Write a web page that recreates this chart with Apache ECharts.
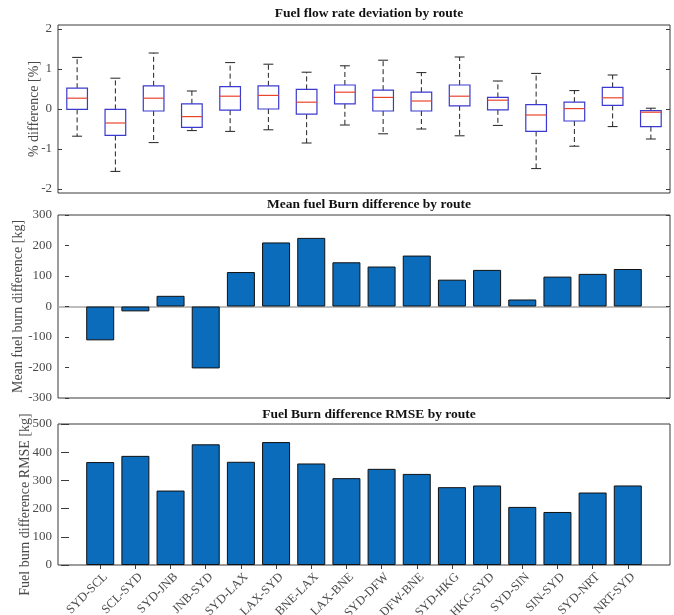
<!DOCTYPE html>
<html>
<head>
<meta charset="utf-8">
<script src="https://cdn.jsdelivr.net/npm/echarts@6/dist/echarts.min.js"></script>
<style>
html,body{margin:0;padding:0;background:#fff;}
#chart{width:674px;height:615px;}
</style>
</head>
<body>
<div id="chart"></div>
<script>
// ---- data ----
const routes = ['SYD-SCL','SCL-SYD','SYD-JNB','JNB-SYD','SYD-LAX','LAX-SYD','BNE-LAX','LAX-BNE','SYD-DFW','DFW-BNE','SYD-HKG','HKG-SYD','SYD-SIN','SIN-SYD','SYD-NRT','NRT-SYD'];
const flowMin    = [-0.68,-1.56,-0.84,-0.54,-0.56,-0.52,-0.85,-0.40,-0.62,-0.50,-0.67,-0.41,-1.49,-0.93,-0.44,-0.75];
const flowQ1     = [-0.01,-0.66,-0.05,-0.46,-0.03, 0.00,-0.13, 0.13,-0.05,-0.05, 0.08,-0.02,-0.56,-0.30, 0.09,-0.44];
const flowMedian = [ 0.27,-0.35, 0.27,-0.19, 0.32, 0.34, 0.17, 0.42, 0.29, 0.20, 0.32, 0.22,-0.15, 0.01, 0.28,-0.08];
const flowQ3     = [ 0.52,-0.01, 0.58, 0.13, 0.56, 0.58, 0.49, 0.60, 0.47, 0.42, 0.60, 0.29, 0.11, 0.17, 0.54,-0.04];
const flowMax    = [ 1.29, 0.77, 1.40, 0.45, 1.16, 1.12, 0.92, 1.08, 1.22, 0.91, 1.30, 0.70, 0.89, 0.46, 0.85, 0.02];
const meanDiff   = [-111,-16,35,-203,113,210,225,145,131,167,88,120,23,98,107,123];
const rmse       = [365,387,264,428,366,436,360,308,341,323,276,282,206,188,257,282];
const flowTicks  = [-2,-1,0,1,2];
const titles = ['Fuel flow rate deviation by route','Mean fuel Burn difference by route','Fuel Burn difference RMSE by route'];
const yNames = ['% difference [%]','Mean fuel burn difference [kg]','Fuel burn difference RMSE [kg]'];

// ---- styling ----
const SERIF = '"Liberation Serif","DejaVu Serif",serif';
const LABEL_COLOR = '#4a4a4a';
const FRAME = '#3a3a3a';
const positions = routes.map((_, i) => i + 1);
const LABEL_SHIFT = 0.15; // rotated label anchor sits slightly right of its tick
const labelPositions = positions.map(p => p + LABEL_SHIFT);

const chart = echarts.init(document.getElementById('chart'), null, {renderer:'canvas'});

const labelStyle = {color: LABEL_COLOR, fontFamily: SERIF, fontSize: 13};
const nameStyle = {color: LABEL_COLOR, fontFamily: SERIF, fontSize: 14};

function rightAxis(grid, min, max, interval, custom) {
  const ax = {type:'value', gridIndex:grid, position:'right', min, max,
    axisLine:{show:false}, axisLabel:{show:false}, splitLine:{show:false},
    axisTick:{show:true, inside:true, length:4, lineStyle:{color:FRAME}}};
  if (custom) ax.axisTick.customValues = custom; else ax.interval = interval;
  return ax;
}

function renderBox(params, api) {
  const idx = api.value(0);
  const pMin = api.coord([idx, api.value(1)]);
  const pQ1 = api.coord([idx, api.value(2)]);
  const pMed = api.coord([idx, api.value(3)]);
  const pQ3 = api.coord([idx, api.value(4)]);
  const pMax = api.coord([idx, api.value(5)]);
  const band = api.size([1, 0])[0];
  const hw = band * 0.27;
  const cw = band * 0.13;
  const x = pMed[0];
  const dash = {stroke:'#222', lineWidth:1, lineDash:[5,3]};
  const solid = {stroke:'#222', lineWidth:1};
  return {type:'group', children:[
    {type:'line', shape:{x1:x,y1:pQ3[1],x2:x,y2:pMax[1]}, style:dash},
    {type:'line', shape:{x1:x,y1:pQ1[1],x2:x,y2:pMin[1]}, style:dash},
    {type:'line', shape:{x1:x-cw,y1:pMax[1],x2:x+cw,y2:pMax[1]}, style:solid},
    {type:'line', shape:{x1:x-cw,y1:pMin[1],x2:x+cw,y2:pMin[1]}, style:solid},
    {type:'rect', shape:{x:x-hw,y:pQ3[1],width:2*hw,height:pQ1[1]-pQ3[1]}, style:{fill:'none',stroke:'#3a3ad0',lineWidth:1.2}},
    {type:'line', shape:{x1:x-hw,y1:pMed[1],x2:x+hw,y2:pMed[1]}, style:{stroke:'#e8452c',lineWidth:1.2}}
  ]};
}

const gridBase = {left:58, right:4, show:true, borderColor:FRAME, borderWidth:1,
  backgroundColor:'transparent', containLabel:false, outerBoundsMode:'none'};

const option = {
  backgroundColor:'#fff',
  animation:false,
  title: titles.map((t, i) => ({
    text:t, left:364, top:[2,192.5,402.5][i], textAlign:'center',
    textStyle:{fontFamily:SERIF, fontWeight:'bold', fontSize:13.5, color:'#111'}
  })),
  grid:[
    Object.assign({top:25, height:168}, gridBase),
    Object.assign({top:215, height:183}, gridBase),
    Object.assign({top:424, height:141}, gridBase)
  ],
  xAxis:[
    {type:'category', gridIndex:0, data:routes, boundaryGap:true,
      axisLine:{show:false}, axisTick:{show:false}, axisLabel:{show:false}, splitLine:{show:false}},
    {type:'value', gridIndex:1, min:-0.2, max:17.2,
      axisLine:{show:true, onZero:true, lineStyle:{color:'#a8a8a8', width:1.5}},
      axisTick:{show:false}, axisLabel:{show:false}, splitLine:{show:false}},
    {type:'value', gridIndex:2, min:-0.2, max:17.2, position:'bottom',
      axisLine:{show:false}, splitLine:{show:false},
      axisTick:{show:true, inside:true, length:4, customValues:positions, lineStyle:{color:FRAME}},
      axisLabel:Object.assign({show:true, rotate:45, margin:10, customValues:labelPositions,
        formatter:(v) => routes[Math.round(v - LABEL_SHIFT) - 1] || ''}, labelStyle, {fontSize:12.5})},
    {type:'value', gridIndex:2, min:-0.2, max:17.2, position:'top',
      axisLine:{show:false}, splitLine:{show:false}, axisLabel:{show:false},
      axisTick:{show:true, inside:true, length:4, customValues:positions, lineStyle:{color:FRAME}}}
  ],
  yAxis:[
    {type:'value', gridIndex:0, min:-2.1, max:2.1,
      name:yNames[0], nameLocation:'middle', nameGap:17, nameMoveOverlap:false, nameTextStyle:nameStyle,
      axisLine:{show:false}, splitLine:{show:false},
      axisTick:{show:true, inside:true, length:4, customValues:flowTicks, lineStyle:{color:FRAME}},
      axisLabel:Object.assign({customValues:flowTicks, margin:6}, labelStyle)},
    rightAxis(0, -2.1, 2.1, null, flowTicks),
    {type:'value', gridIndex:1, min:-300, max:300, interval:100,
      name:yNames[1], nameLocation:'middle', nameGap:33, nameMoveOverlap:false, nameTextStyle:nameStyle,
      axisLine:{show:false}, splitLine:{show:false},
      axisTick:{show:true, inside:true, length:4, lineStyle:{color:FRAME}},
      axisLabel:Object.assign({margin:6}, labelStyle)},
    rightAxis(1, -300, 300, 100),
    {type:'value', gridIndex:2, min:0, max:500, interval:100,
      name:yNames[2], nameLocation:'middle', nameGap:26, nameMoveOverlap:false,
      nameTextStyle:Object.assign({padding:[0,20,0,0]}, nameStyle),
      axisLine:{show:false}, splitLine:{show:false},
      axisTick:{show:true, inside:true, length:4, lineStyle:{color:FRAME}},
      axisLabel:Object.assign({margin:6}, labelStyle)},
    rightAxis(2, 0, 500, 100)
  ],
  series:[
    {type:'custom', xAxisIndex:0, yAxisIndex:0, renderItem:renderBox,
      data: routes.map((r, i) => [i, flowMin[i], flowQ1[i], flowMedian[i], flowQ3[i], flowMax[i]]),
      encode:{x:0, y:[1,2,3,4,5]}, z:5},
    {type:'bar', xAxisIndex:1, yAxisIndex:2, barWidth:28,
      data: meanDiff.map((v, i) => [i + 1, v]),
      itemStyle:{color:'#0b6cbc', borderColor:'#111', borderWidth:1}},
    {type:'bar', xAxisIndex:2, yAxisIndex:4, barWidth:28,
      data: rmse.map((v, i) => [i + 1, v]),
      itemStyle:{color:'#0b6cbc', borderColor:'#111', borderWidth:1}}
  ]
};
chart.setOption(option);
</script>
</body>
</html>
